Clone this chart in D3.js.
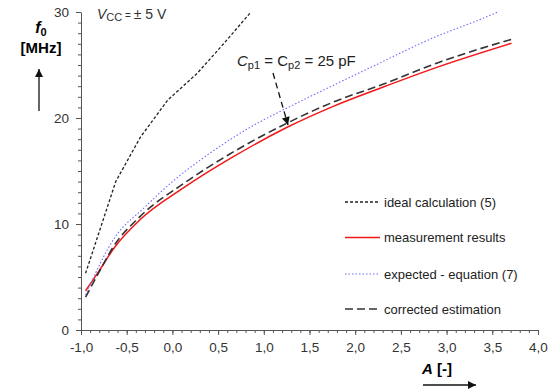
<!DOCTYPE html>
<html>
<head>
<meta charset="utf-8">
<script src="https://cdn.jsdelivr.net/npm/d3@7"></script>
<style>
  body { margin: 0; background: #fff; }
  svg { font-family: "Liberation Sans", Arial, sans-serif; }
</style>
</head>
<body>
<div id="graph"></div>
<script>
const width = 559;
const height = 391;

// Tick values and labels
const xTicks = [-1, -0.5, 0, 0.5, 1, 1.5, 2, 2.5, 3, 3.5, 4];
const xTickLabels = ['-1,0', '-0,5', '0,0', '0,5', '1,0', '1,5', '2,0', '2,5', '3,0', '3,5', '4,0'];
const yTicks = [0, 10, 20, 30];
const yTickLabels = ['0', '10', '20', '30'];

// Series (A, f0 in MHz)
const idealA = [-0.95, -0.62, -0.35, -0.05, 0.27, 0.56, 0.85];
const idealF = [5.35, 14.0, 18.2, 21.7, 24.2, 27.0, 29.9];

const measA = [-0.95, -0.8, -0.65, -0.355, 0.12, 0.667, 1.25, 1.76, 2.3, 2.9, 3.71];
const measF = [3.7, 5.6, 7.6, 10.4, 13.4, 16.35, 19.1, 21.1, 22.9, 24.8, 27.05];

const expA = [-0.95, -0.64, -0.3, 0.0, 0.3, 0.96, 1.21, 2.2, 2.89, 3.34, 3.56];
const expF = [3.3, 8.6, 11.6, 14.0, 16.0, 19.65, 20.75, 24.9, 27.7, 29.2, 30.0];

const corrA = [-0.95, -0.8, -0.65, -0.355, 0.12, 0.667, 1.25, 1.76, 2.31, 2.9, 3.72];
const corrF = [3.1, 5.5, 7.8, 10.7, 13.8, 16.8, 19.5, 21.5, 23.2, 25.2, 27.45];

const legendLabels = ['ideal calculation (5)', 'measurement results', 'expected - equation (7)', 'corrected estimation'];

function render() {
  const svg = d3.select('#graph')
    .append('svg')
    .attr('width', width)
    .attr('height', height);

  // Scales
  const x = d3.scaleLinear().domain([-1, 4]).range([81, 538]);
  const y = d3.scaleLinear().domain([0, 30]).range([330, 12]);

  // Minor ticks
  svg.append('g')
    .attr('transform', 'translate(0,330)')
    .call(d3.axisBottom(x).tickValues(d3.range(-10, 41).map(d => d / 10)).tickSize(3).tickFormat(''))
    .call(g => g.select('.domain').remove())
    .selectAll('line').attr('stroke', '#555');
  svg.append('g')
    .attr('transform', 'translate(81,0)')
    .call(d3.axisLeft(y).tickValues(d3.range(0, 31)).tickSize(3).tickFormat(''))
    .call(g => g.select('.domain').remove())
    .selectAll('line').attr('stroke', '#555');

  // Major axes
  const xAxis = svg.append('g')
    .attr('transform', 'translate(0,330)')
    .call(d3.axisBottom(x).tickValues(xTicks).tickSizeInner(5).tickSizeOuter(0)
      .tickFormat((d, i) => xTickLabels[i]));
  const yAxis = svg.append('g')
    .attr('transform', 'translate(81,0)')
    .call(d3.axisLeft(y).tickValues(yTicks).tickSizeInner(5).tickSizeOuter(0)
      .tickFormat((d, i) => yTickLabels[i]));
  [xAxis, yAxis].forEach(g => {
    g.select('.domain').attr('stroke', '#555');
    g.selectAll('line').attr('stroke', '#555');
    g.selectAll('text').attr('font-size', 13.5).attr('fill', '#333')
      .attr('font-family', '"Liberation Sans", Arial, sans-serif');
  });
  xAxis.selectAll('text').attr('dy', '1.05em');
  yAxis.selectAll('text').attr('x', -12);

  // Series
  const series = [
    { a: idealA, f: idealF, color: '#222', w: 1.3, dash: '3,2', curve: d3.curveLinear },
    { a: measA, f: measF, color: '#f01818', w: 1.5, dash: null, curve: d3.curveMonotoneX },
    { a: expA, f: expF, color: '#6b6bff', w: 1.1, dash: '1.5,2', curve: d3.curveMonotoneX },
    { a: corrA, f: corrF, color: '#333', w: 1.6, dash: '8,4', curve: d3.curveMonotoneX }
  ];
  series.forEach(s => {
    const line = d3.line().x(d => x(d[0])).y(d => y(d[1])).curve(s.curve);
    svg.append('path')
      .datum(s.a.map((v, i) => [v, s.f[i]]))
      .attr('fill', 'none')
      .attr('stroke', s.color)
      .attr('stroke-width', s.w)
      .attr('stroke-dasharray', s.dash)
      .attr('d', line);
  });

  // Legend
  const legendY = [202, 237.5, 274, 309];
  series.forEach((s, i) => {
    svg.append('line')
      .attr('x1', 345).attr('x2', 380)
      .attr('y1', legendY[i]).attr('y2', legendY[i])
      .attr('stroke', s.color)
      .attr('stroke-width', s.w)
      .attr('stroke-dasharray', s.dash);
    svg.append('text')
      .attr('x', 384).attr('y', legendY[i] + 4.5)
      .attr('font-size', 13).attr('fill', '#222')
      .text(legendLabels[i]);
  });

  // Y label with arrow
  const yl = svg.append('text').attr('x', 41).attr('y', 33)
    .attr('text-anchor', 'middle').attr('font-weight', 'bold').attr('font-size', 16);
  yl.append('tspan').attr('font-style', 'italic').text('f');
  yl.append('tspan').attr('font-size', 11).attr('dy', 3).text('0');
  svg.append('text').attr('x', 41).attr('y', 53)
    .attr('text-anchor', 'middle').attr('font-weight', 'bold').attr('font-size', 15)
    .text('[MHz]');

  const defs = svg.append('defs');
  defs.append('marker')
    .attr('id', 'arr')
    .attr('viewBox', '0 0 10 10')
    .attr('refX', 10).attr('refY', 5)
    .attr('markerWidth', 10).attr('markerHeight', 8)
    .attr('markerUnits', 'userSpaceOnUse')
    .attr('orient', 'auto')
    .append('path').attr('d', 'M0,0 L10,5 L0,10 Z').attr('fill', '#111');

  svg.append('line').attr('x1', 39).attr('y1', 111).attr('x2', 39).attr('y2', 69)
    .attr('stroke', '#111').attr('stroke-width', 1.3).attr('marker-end', 'url(#arr)');

  // X label with arrow
  const xl = svg.append('text').attr('x', 437).attr('y', 374)
    .attr('text-anchor', 'middle').attr('font-weight', 'bold').attr('font-size', 15);
  xl.append('tspan').attr('font-style', 'italic').text('A');
  xl.append('tspan').text(' [-]');
  svg.append('line').attr('x1', 423).attr('y1', 385).attr('x2', 476).attr('y2', 385)
    .attr('stroke', '#111').attr('stroke-width', 1.3).attr('marker-end', 'url(#arr)');

  // VCC note
  const vcc = svg.append('text').attr('x', 97).attr('y', 19).attr('font-size', 14).attr('fill', '#333');
  vcc.append('tspan').attr('font-style', 'italic').text('V');
  vcc.append('tspan').attr('font-size', 11).attr('dy', 2).text('CC');
  vcc.append('tspan').attr('font-size', 10).attr('dy', -2).text(' = ');
  vcc.append('tspan').text('± 5 V');

  // Annotation
  const ann = svg.append('text').attr('x', 237).attr('y', 66).attr('font-size', 15).attr('fill', '#222');
  ann.append('tspan').attr('font-style', 'italic').text('C');
  ann.append('tspan').attr('font-size', 11).attr('dy', 3).text('p1');
  ann.append('tspan').attr('dy', -3).text(' = C');
  ann.append('tspan').attr('font-size', 11).attr('dy', 3).text('p2');
  ann.append('tspan').attr('dy', -3).text(' = 25 pF');

  svg.append('line').attr('x1', 273).attr('y1', 73).attr('x2', 288).attr('y2', 125)
    .attr('stroke', '#111').attr('stroke-width', 1.3).attr('stroke-dasharray', '6,4')
    .attr('marker-end', 'url(#arr)');
}

render();
</script>
</body>
</html>
